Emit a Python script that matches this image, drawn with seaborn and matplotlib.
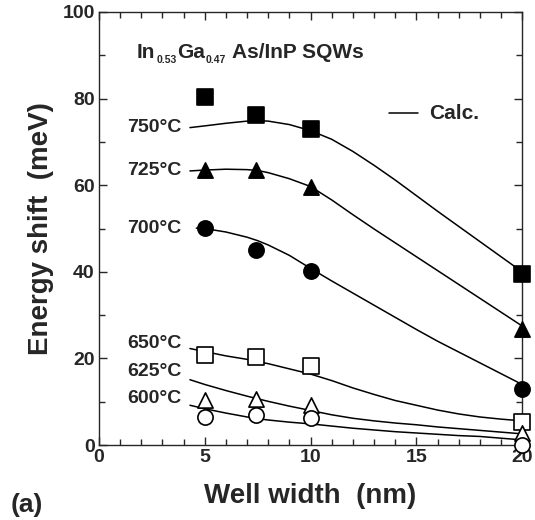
import matplotlib
matplotlib.use("Agg")
import matplotlib.pyplot as plt
from matplotlib.ticker import MultipleLocator
import seaborn as sns
import pandas as pd

# ---- measured data ----
well_x = [5, 7.4, 10, 20]
meas_750 = [80.3, 76.3, 72.9, 39.4]
meas_725 = [63.6, 63.6, 59.6, 26.9]
meas_700 = [50.1, 45.0, 40.3, 13.0]
meas_650 = [20.9, 20.3, 18.3, 5.3]
meas_625 = [10.4, 10.7, 9.2, 2.7]
meas_600 = [6.4, 6.9, 6.2, 0.0]

# ---- calculated curves ----
calc_x = [4.3, 5, 6, 7, 7.5, 8, 9, 10, 11, 12, 13, 14, 15, 16, 17, 18, 19, 20]
calc_750 = [73.3, 73.7, 74.3, 74.8, 74.9, 74.8, 74.0, 72.6, 70.6, 67.8, 64.6, 61.2,
            57.6, 54.0, 50.5, 47.0, 43.5, 40.0]
calc_725 = [63.3, 63.5, 63.7, 63.6, 63.4, 62.9, 61.5, 59.7, 56.6, 53.2, 49.9, 46.7,
            43.5, 40.3, 37.1, 33.9, 30.7, 27.5]
calc_700_x = [4.6, 5, 6, 7, 7.5, 8, 9, 10, 11, 12, 13, 14, 15, 16, 17, 18, 19, 20]
calc_700 = [50.1, 50.0, 49.2, 48.0, 47.2, 46.2, 43.8, 40.8, 37.9, 35.1, 32.3, 29.5,
            26.7, 24.0, 21.5, 19.0, 16.5, 14.0]
calc_650 = [22.3, 21.6, 20.6, 19.8, 19.3, 18.8, 17.6, 16.4, 14.9, 13.2, 11.7, 10.3,
            9.2, 8.1, 7.2, 6.5, 6.0, 5.6]
calc_625 = [15.1, 14.0, 12.6, 11.3, 10.7, 10.1, 9.0, 8.0, 7.0, 6.2, 5.6, 5.1,
            4.7, 4.2, 3.8, 3.4, 3.0, 2.6]
calc_600 = [9.2, 8.4, 7.4, 6.5, 6.1, 5.8, 5.3, 4.9, 4.4, 3.9, 3.5, 3.1,
            2.8, 2.5, 2.2, 2.0, 1.6, 1.2]

temps = ["750°C", "725°C", "700°C", "650°C", "625°C", "600°C"]
label_y = [73.3, 63.3, 50.1, 23.4, 16.9, 10.7]

sns.set_style("ticks")
plt.rcParams['font.family'] = ['Liberation Sans', 'DejaVu Sans']
plt.rcParams['font.weight'] = 'bold'

meas = [meas_750, meas_725, meas_700, meas_650, meas_625, meas_600]
calcs = [(calc_x, calc_750), (calc_x, calc_725), (calc_700_x, calc_700),
         (calc_x, calc_650), (calc_x, calc_625), (calc_x, calc_600)]

mdf = pd.DataFrame([{"w": x, "E": y, "T": t} for t, ys in zip(temps, meas) for x, y in zip(well_x, ys)])
cdf = pd.DataFrame([{"w": x, "E": y, "T": t} for t, (xs, ys) in zip(temps, calcs) for x, y in zip(xs, ys)])

fig = plt.figure(figsize=(5.35, 5.2), dpi=100)
ax = fig.add_axes([0.185, 0.144, 0.791, 0.833])

sns.lineplot(data=cdf, x="w", y="E", units="T", estimator=None, color="black",
             linewidth=1.1, sort=True, ax=ax, legend=False)

styles = {
    "750°C": dict(marker="s", facecolor="black"),
    "725°C": dict(marker="^", facecolor="black"),
    "700°C": dict(marker="o", facecolor="black"),
    "650°C": dict(marker="s", facecolor="white"),
    "625°C": dict(marker="^", facecolor="white"),
    "600°C": dict(marker="o", facecolor="white"),
}
for t in temps:
    st = styles[t]
    sub = mdf[mdf["T"] == t]
    sns.scatterplot(data=sub, x="w", y="E", marker=st["marker"], s=120,
                    color=st["facecolor"], edgecolor="black", linewidth=1.2,
                    ax=ax, zorder=5, clip_on=False, legend=False)

for t, yy in zip(temps, label_y):
    ax.text(3.9, yy, t, ha="right", va="center", fontsize=14, fontweight="bold")

# title with small subscripts, pieces chained together
pieces = [("In", False), ("0.53", True), ("Ga", False), ("0.47", True), (" As/InP SQWs", False)]
first = ax.text(1.8, 88.5, "In", ha="left", va="bottom", fontsize=15, fontweight="bold")
prev = first
for txt, is_sub in pieces[1:]:
    if is_sub:
        prev = ax.annotate(txt, xy=(1, 0), xycoords=(prev, first), xytext=(0.5, -2.5),
                           textcoords="offset points", ha="left", va="bottom",
                           fontsize=7.5, fontweight="bold")
    else:
        prev = ax.annotate(txt, xy=(1, 0), xycoords=(prev, first), xytext=(0.5, 0),
                           textcoords="offset points", ha="left", va="bottom",
                           fontsize=15, fontweight="bold")

ax.plot([13.7, 15.1], [76.6, 76.6], color="black", linewidth=1.1)
ax.text(15.6, 76.6, "Calc.", ha="left", va="center", fontsize=15, fontweight="bold")

ax.set_xlim(0, 20)
ax.set_ylim(0, 100)
ax.xaxis.set_major_locator(MultipleLocator(5))
ax.xaxis.set_minor_locator(MultipleLocator(1))
ax.yaxis.set_major_locator(MultipleLocator(20))
ax.yaxis.set_minor_locator(MultipleLocator(10))
ax.tick_params(which="both", direction="in", top=True, right=True, width=1.0,
               labelsize=14, pad=3)
ax.tick_params(which="major", length=6)
ax.tick_params(which="minor", length=4)
for lab in ax.get_xticklabels() + ax.get_yticklabels():
    lab.set_fontweight("bold")
for sp in ax.spines.values():
    sp.set_linewidth(1.0)
    sp.set_visible(True)

ax.set_xlabel("Well width  (nm)", fontsize=20, fontweight="bold", labelpad=12)
ax.set_ylabel("Energy shift  (meV)", fontsize=20, fontweight="bold", labelpad=6)

fig.text(0.02, 0.006, "(a)", ha="left", va="bottom", fontsize=19, fontweight="bold")

fig.savefig("out.png", dpi=100)
